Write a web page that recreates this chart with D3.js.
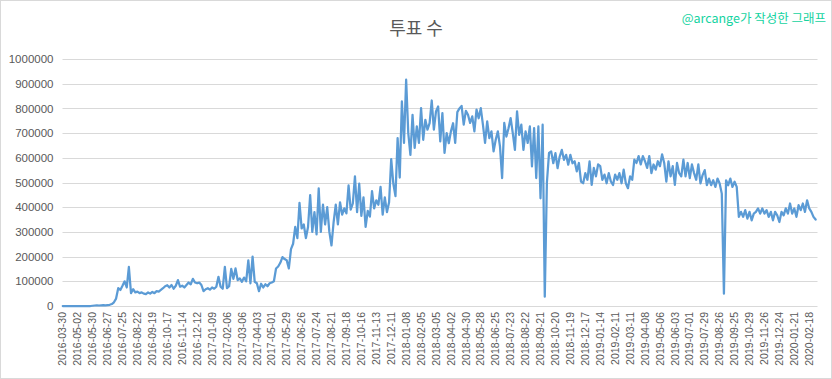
<!DOCTYPE html>
<html><head><meta charset="utf-8">
<script src="https://cdn.jsdelivr.net/npm/d3@7"></script>
<style>body{margin:0;background:#fff;overflow:hidden}</style>
</head><body>
<svg id="c" width="832" height="379"></svg>
<script>
const titleText = "투표 수";
const creditText = "@arcange가 작성한 그래프";
const tickLabels = [
 "2016-03-30","2016-05-02","2016-05-30","2016-06-27","2016-07-25","2016-08-22","2016-09-19","2016-10-17","2016-11-14","2016-12-12",
 "2017-01-09","2017-02-06","2017-03-06","2017-04-03","2017-05-01","2017-05-29","2017-06-26","2017-07-24","2017-08-21","2017-09-18","2017-10-16","2017-11-13","2017-12-11",
 "2018-01-08","2018-02-05","2018-03-05","2018-04-02","2018-04-30","2018-05-28","2018-06-25","2018-07-23","2018-08-22","2018-09-21","2018-10-20","2018-11-19","2018-12-17",
 "2019-01-14","2019-02-11","2019-03-11","2019-04-08","2019-05-06","2019-06-03","2019-07-01","2019-07-29","2019-08-26","2019-09-25","2019-10-29","2019-11-26","2019-12-24",
 "2020-01-21","2020-02-18"];
const yTicks = [0,100000,200000,300000,400000,500000,600000,700000,800000,900000,1000000];
// daily votes (thousands), one reading every 4 days
const votesK = [
 0,0,0,0,0,0,0,0,0,0,0,0,0,0,1,
 2,3,2,3,4,3,4,5,
 8,15,30,72,65,82,100,75,158,
 52,68,55,58,52,55,50,48,55,50,57,52,60,58,65,72,80,84,75,85,70,82,105,78,82,75,85,95,88,110,95,92,
 95,85,60,68,72,66,75,70,78,118,
 78,70,158,72,80,150,110,152,105,112,
 98,115,100,185,92,200,98,92,60,90,
 75,88,80,92,95,100,152,160,175,198,
 190,185,152,230,252,320,275,418,314,330,
 275,320,449,300,380,290,476,
 300,410,330,400,300,245,340,410,330,420,
 370,395,375,488,390,415,525,380,495,365,
 440,320,385,362,465,395,428,410,482,370,
 440,380,420,595,495,445,680,520,828,660,
 916,700,612,774,640,727,660,801,673,754,
 714,740,832,714,788,808,666,781,620,700,659,707,
 740,660,785,800,810,734,790,774,741,768,
 707,795,760,801,734,660,747,680,707,626,
 673,707,646,518,741,686,720,761,700,632,
 788,693,734,632,707,660,727,565,720,518,
 727,436,734,38,500,620,626,578,619,558,
 605,632,592,612,572,612,578,
 586,545,579,504,497,538,511,586,490,559,
 525,573,566,511,532,497,538,504,490,532,
 511,538,497,552,497,477,525,511,593,579,
 607,573,607,586,559,607,538,573,552,586,
 566,614,579,504,586,525,566,490,579,538,
 525,593,525,579,518,573,538,511,573,
 496,530,550,489,516,489,509,482,516,496,
 455,50,509,489,516,482,503,482,361,381,
 361,388,354,381,347,374,381,395,374,395,
 374,388,361,381,347,381,367,340,381,367,
 395,374,415,374,395,361,408,388,415,381,
 428,395,381,361,350];
const DAYS_PER_READING = 4, DAYS_PER_LABEL = 28, TOTAL_DAYS = 1416;

const svg = d3.select("#c");
const W = 832, H = 379;
const plot = {l: 62.5, r: 817.5, t: 59, b: 306};

svg.append("rect").attr("x",0.5).attr("y",0.5).attr("width",W-1).attr("height",H-1)
  .attr("fill","#fff").attr("stroke","#d9d9d9");

const x = d3.scaleLinear().domain([0, TOTAL_DAYS]).range([plot.l, plot.r]);
const y = d3.scaleLinear().domain([0, 1000000]).range([plot.b, plot.t]);

// gridlines
svg.append("g").selectAll("line").data(yTicks).join("line")
  .attr("x1", plot.l).attr("x2", plot.r)
  .attr("y1", d => Math.round(y(d)) + 0.5).attr("y2", d => Math.round(y(d)) + 0.5)
  .attr("stroke", "#d9d9d9").attr("stroke-width", 1);

// y axis labels
const yAxis = d3.axisLeft(y).tickValues(yTicks).tickFormat(d => String(d)).tickSize(0).tickPadding(0);
const gy = svg.append("g").attr("transform", `translate(${plot.l - 9},0)`).call(yAxis);
gy.select(".domain").remove();
gy.selectAll("text").attr("fill","#595959").style("font-family","'Liberation Sans', Arial, sans-serif").style("font-size","11.5px");

// x axis labels
const labelIdx = tickLabels.map((d,i) => i * DAYS_PER_LABEL + 0.5);
svg.append("g").selectAll("text").data(tickLabels).join("text")
  .attr("transform", (d,i) => `translate(${x(labelIdx[i])},${plot.b + 6}) rotate(-90)`)
  .attr("text-anchor","end").attr("dy","0.35em")
  .attr("fill","#595959").style("font-family","'Liberation Sans', Arial, sans-serif").style("font-size","10.5px")
  .text(d => d);

// line
const line = d3.line().x((d,i) => x(i * DAYS_PER_READING + 0.5)).y(d => y(d * 1000)).curve(d3.curveLinear);
svg.append("path").datum(votesK).attr("d", line)
  .attr("fill","none").attr("stroke","#5b9bd5").attr("stroke-width",2.25)
  .attr("stroke-linejoin","round").attr("stroke-linecap","round");

// title
svg.append("text").attr("x", 416).attr("y", 35).attr("text-anchor","middle")
  .attr("fill","#595959").style("font-family","'Noto Sans CJK KR', sans-serif").style("font-size","18px")
  .text(titleText);
svg.append("text").attr("x", 826).attr("y", 23).attr("text-anchor","end")
  .attr("fill","#14d39f").style("font-family","'Noto Sans CJK KR', sans-serif").style("font-size","12.5px")
  .text(creditText);
</script>
</body></html>
